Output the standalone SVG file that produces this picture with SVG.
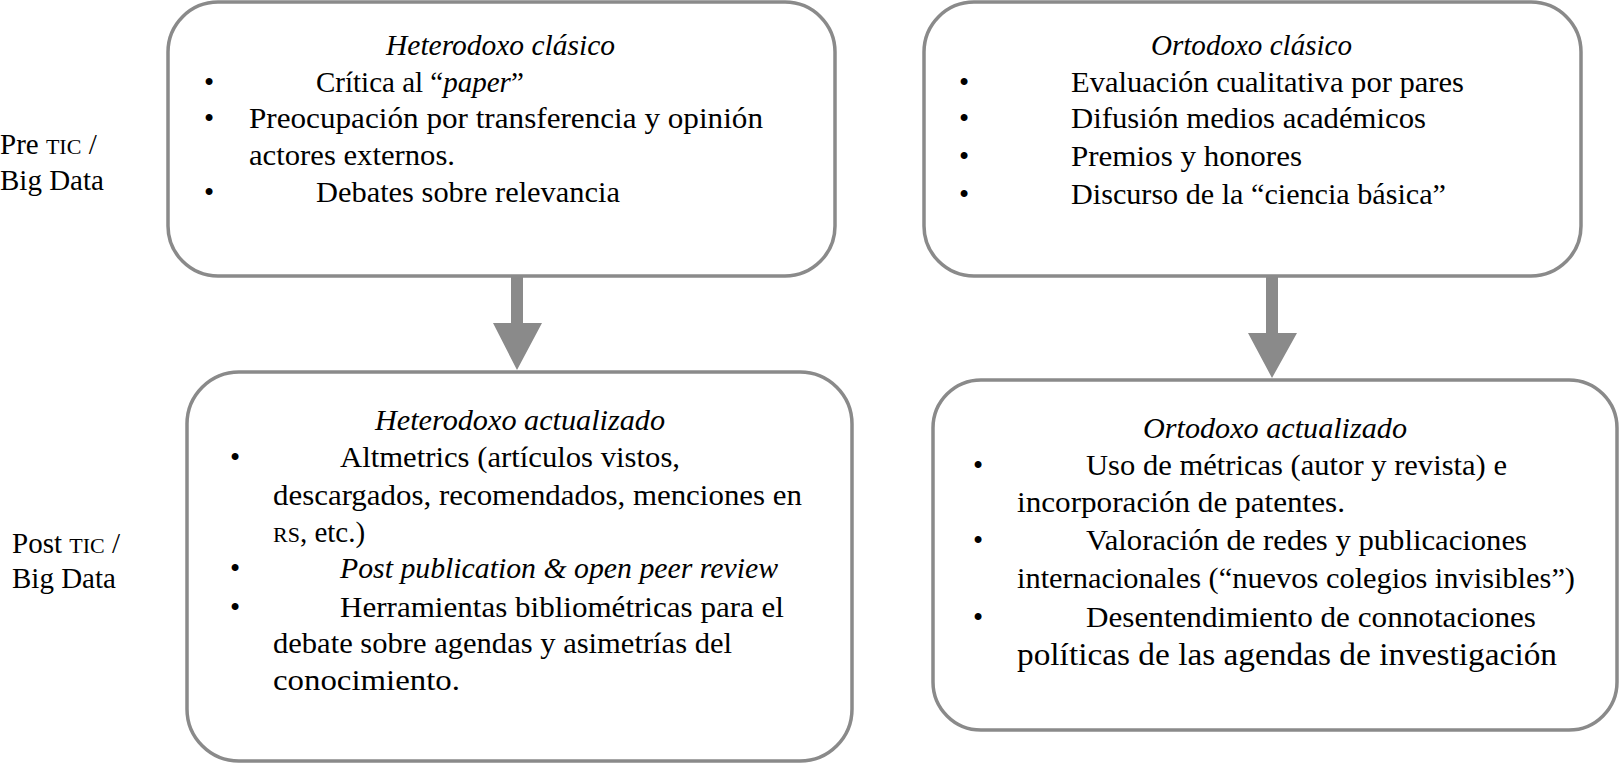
<svg xmlns="http://www.w3.org/2000/svg" width="1620" height="763" viewBox="0 0 1620 763">
<style>
.box{fill:#fff;stroke:#8a8a8a;stroke-width:3.5}
.arr{fill:#8a8a8a;stroke:none}
text{font-family:"Liberation Serif","Times New Roman",serif;font-size:29px;fill:#000}
.it{font-style:italic}
.sc{font-size:22px}
</style>
<rect width="1620" height="763" fill="#fff"/>
<g id="labels">
<text x="0" y="154">Pre <tspan class="sc">TIC</tspan> /</text>
<text x="0" y="190">Big Data</text>
<text x="12" y="553">Post <tspan class="sc">TIC</tspan> /</text>
<text x="12" y="588">Big Data</text>
</g>
<g id="connectors">
<path class="arr" d="M511 275 H523 V323 H542 L517 370 L493 323 H511 Z"/>
<path class="arr" d="M1266 275 H1278 V333 H1297 L1272 378 L1248 333 H1266 Z"/>
</g>
<g id="heterodoxo-clasico">
<rect class="box" x="168" y="2" width="667" height="274" rx="50"/>
<text class="it" x="386" y="55" textLength="229" lengthAdjust="spacingAndGlyphs">Heterodoxo clásico</text>
<text x="204" y="92">•</text>
<text x="316" y="92">Crítica al “<tspan class="it">paper</tspan>”</text>
<text x="204" y="128">•</text>
<text x="249" y="128" textLength="514" lengthAdjust="spacingAndGlyphs">Preocupación por transferencia y opinión</text>
<text x="249" y="165" textLength="206" lengthAdjust="spacingAndGlyphs">actores externos.</text>
<text x="204" y="202">•</text>
<text x="316" y="202" textLength="304" lengthAdjust="spacingAndGlyphs">Debates sobre relevancia</text>
</g>
<g id="ortodoxo-clasico">
<rect class="box" x="924" y="2" width="657" height="274" rx="50"/>
<text class="it" x="1151" y="55" textLength="201" lengthAdjust="spacingAndGlyphs">Ortodoxo clásico</text>
<text x="959" y="92">•</text>
<text x="1071" y="92" textLength="393" lengthAdjust="spacingAndGlyphs">Evaluación cualitativa por pares</text>
<text x="959" y="128">•</text>
<text x="1071" y="128" textLength="355" lengthAdjust="spacingAndGlyphs">Difusión medios académicos</text>
<text x="959" y="166">•</text>
<text x="1071" y="166" textLength="231" lengthAdjust="spacingAndGlyphs">Premios y honores</text>
<text x="959" y="204">•</text>
<text x="1071" y="204" textLength="375" lengthAdjust="spacingAndGlyphs">Discurso de la “ciencia básica”</text>
</g>
<g id="heterodoxo-actualizado">
<rect class="box" x="187" y="372" width="665" height="389" rx="52"/>
<text class="it" x="375" y="430" textLength="290" lengthAdjust="spacingAndGlyphs">Heterodoxo actualizado</text>
<text x="230" y="467">•</text>
<text x="340" y="467" textLength="340" lengthAdjust="spacingAndGlyphs">Altmetrics (artículos vistos,</text>
<text x="273" y="505" textLength="529" lengthAdjust="spacingAndGlyphs">descargados, recomendados, menciones en</text>
<text x="273" y="542"><tspan class="sc">RS</tspan>, etc.)</text>
<text x="230" y="578">•</text>
<text class="it" x="340" y="578" textLength="438" lengthAdjust="spacingAndGlyphs">Post publication &amp; open peer review</text>
<text x="230" y="617">•</text>
<text x="340" y="617" textLength="444" lengthAdjust="spacingAndGlyphs">Herramientas bibliométricas para el</text>
<text x="273" y="653" textLength="459" lengthAdjust="spacingAndGlyphs">debate sobre agendas y asimetrías del</text>
<text x="273" y="690" textLength="187" lengthAdjust="spacingAndGlyphs">conocimiento.</text>
</g>
<g id="ortodoxo-actualizado">
<rect class="box" x="933" y="380" width="684" height="350" rx="48"/>
<text class="it" x="1143" y="438" textLength="264" lengthAdjust="spacingAndGlyphs">Ortodoxo actualizado</text>
<text x="973" y="475">•</text>
<text x="1086" y="475" textLength="421" lengthAdjust="spacingAndGlyphs">Uso de métricas (autor y revista) e</text>
<text x="1017" y="512" textLength="328" lengthAdjust="spacingAndGlyphs">incorporación de patentes.</text>
<text x="973" y="550">•</text>
<text x="1086" y="550" textLength="441" lengthAdjust="spacingAndGlyphs">Valoración de redes y publicaciones</text>
<text x="1017" y="588" textLength="558" lengthAdjust="spacingAndGlyphs">internacionales (“nuevos colegios invisibles”)</text>
<text x="973" y="627">•</text>
<text x="1086" y="627" textLength="450" lengthAdjust="spacingAndGlyphs">Desentendimiento de connotaciones</text>
<text x="1017" y="665" textLength="540" lengthAdjust="spacingAndGlyphs" style="font-size:32px">políticas de las agendas de investigación</text>
</g>
</svg>
